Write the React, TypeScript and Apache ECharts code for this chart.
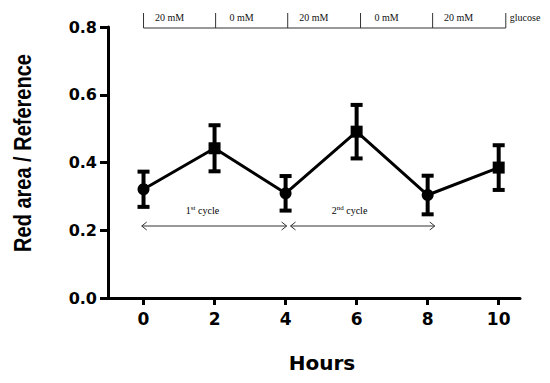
import React, { useEffect, useRef } from "react";
import * as echarts from "echarts";

const hours = [0, 2, 4, 6, 8, 10];
const means = [0.321, 0.442, 0.309, 0.491, 0.304, 0.385];
const errors = [0.052, 0.068, 0.051, 0.079, 0.057, 0.066];
const markers = ["circle", "rect", "circle", "rect", "circle", "rect"];

const xTicks = [0, 2, 4, 6, 8, 10];

const glucoseBounds = [0, 2.03, 4.06, 6.11, 8.14, 10.2];
const glucoseLabels = ["20 mM", "0 mM", "20 mM", "0 mM", "20 mM"];
const glucoseName = "glucose";

const cycleFrom = [-0.05, 4.14];
const cycleTo = [4.03, 8.2];
const cycleNum = ["1", "2"];
const cycleSup = ["st", "nd"];
const cycleLabelX = [1.66, 5.8];
const cycleArrowY = 0.2125;
const cycleLabelY = 0.258;

export default function App() {
  const ref = useRef<HTMLDivElement>(null);
  useEffect(() => {
    document.body.style.margin = "0";
    if (!ref.current) return;
    const chart = echarts.init(ref.current, null, { renderer: "svg" });
    const boldSans = "DejaVu Sans";
    const serif = "Liberation Serif";
    const annColor = "#333";

    const option: any = {
      animation: false,
      backgroundColor: "#fff",
      grid: { left: 108, top: 27, right: 30, bottom: 85, containLabel: false },
      xAxis: {
        type: "value",
        min: -1,
        max: 10.6,
        splitLine: { show: false },
        axisLine: { onZero: false, lineStyle: { color: "#000", width: 3 } },
        axisTick: { customValues: xTicks, length: 7, lineStyle: { color: "#000", width: 3 } },
        axisLabel: {
          customValues: xTicks,
          margin: 12,
          color: "#000",
          fontFamily: boldSans,
          fontWeight: "bold",
          fontSize: 17,
        },
      },
      yAxis: {
        type: "value",
        min: 0,
        max: 0.8,
        interval: 0.2,
        splitLine: { show: false },
        axisLine: { onZero: false, lineStyle: { color: "#000", width: 3 } },
        axisTick: { length: 8, lineStyle: { color: "#000", width: 3 } },
        axisLabel: {
          margin: 11,
          color: "#000",
          fontFamily: boldSans,
          fontWeight: "bold",
          fontSize: 16,
          formatter: (v: number) => v.toFixed(1),
        },
      },
      graphic: [
        {
          type: "text",
          x: 322,
          y: 363,
          style: {
            text: "Hours",
            font: `bold 20px "${boldSans}"`,
            fill: "#000",
            align: "center",
            verticalAlign: "middle",
          },
        },
        {
          type: "text",
          x: 23,
          y: 153,
          rotation: Math.PI / 2,
          scaleY: 1.15,
          style: {
            text: "Red area / Reference",
            font: 'bold 20px "Liberation Sans"',
            fill: "#000",
            align: "center",
            verticalAlign: "middle",
          },
        },
      ],
      series: [
        {
          type: "custom",
          z: 2,
          clip: false,
          data: hours.map((h, i) => [h, means[i], errors[i]]),
          encode: { x: 0, y: 1 },
          renderItem: (params: any, api: any) => {
            const x = api.value(0);
            const m = api.value(1);
            const e = api.value(2);
            const top = api.coord([x, m + e]);
            const bot = api.coord([x, m - e]);
            const hw = 6;
            const st = { stroke: "#000", lineWidth: 4 };
            return {
              type: "group",
              children: [
                { type: "line", shape: { x1: top[0], y1: top[1], x2: bot[0], y2: bot[1] }, style: st },
                { type: "line", shape: { x1: top[0] - hw, y1: top[1], x2: top[0] + hw, y2: top[1] }, style: st },
                { type: "line", shape: { x1: bot[0] - hw, y1: bot[1], x2: bot[0] + hw, y2: bot[1] }, style: st },
              ],
            };
          },
        },
        {
          type: "line",
          z: 3,
          data: hours.map((h, i) => ({ value: [h, means[i]], symbol: markers[i] })),
          symbolSize: 12,
          lineStyle: { color: "#000", width: 3 },
          itemStyle: { color: "#000" },
        },
        {
          type: "custom",
          z: 1,
          clip: false,
          data: [[0, 0]],
          renderItem: (params: any, api: any) => {
            const children: any[] = [];
            const thin = { stroke: annColor, lineWidth: 1 };
            const yTop = api.coord([0, 0.8])[1] + 1;
            const x0 = api.coord([glucoseBounds[0], 0.8])[0];
            const xN = api.coord([glucoseBounds[glucoseBounds.length - 1], 0.8])[0];
            children.push({ type: "line", shape: { x1: x0, y1: yTop, x2: xN, y2: yTop }, style: thin });
            glucoseBounds.forEach((b) => {
              const px = api.coord([b, 0.8])[0];
              children.push({ type: "line", shape: { x1: px, y1: yTop - 15, x2: px, y2: yTop }, style: thin });
            });
            glucoseLabels.forEach((lab, i) => {
              const px = api.coord([glucoseBounds[i], 0.8])[0];
              children.push({
                type: "text",
                x: px + 26,
                y: yTop - 11,
                style: { text: lab, font: `10px "${serif}"`, fill: "#111", align: "center", verticalAlign: "middle" },
              });
            });
            children.push({
              type: "text",
              x: xN + 4,
              y: yTop - 11,
              style: { text: glucoseName, font: `10px "${serif}"`, fill: "#111", align: "left", verticalAlign: "middle" },
            });
            cycleFrom.forEach((f, i) => {
              const a = api.coord([f, cycleArrowY]);
              const b = api.coord([cycleTo[i], cycleArrowY]);
              const h = 4;
              children.push({ type: "line", shape: { x1: a[0], y1: a[1], x2: b[0], y2: b[1] }, style: thin });
              children.push({
                type: "polyline",
                shape: { points: [[a[0] + h + 1, a[1] - h], [a[0], a[1]], [a[0] + h + 1, a[1] + h]] },
                style: { ...thin, fill: "none" },
              });
              children.push({
                type: "polyline",
                shape: { points: [[b[0] - h - 1, b[1] - h], [b[0], b[1]], [b[0] - h - 1, b[1] + h]] },
                style: { ...thin, fill: "none" },
              });
              const lp = api.coord([cycleLabelX[i], cycleLabelY]);
              children.push({
                type: "text",
                x: lp[0],
                y: lp[1],
                style: {
                  text: `{n|${cycleNum[i]}}{s|${cycleSup[i]}}{n| cycle}`,
                  align: "center",
                  verticalAlign: "middle",
                  rich: {
                    n: { fontSize: 10, fontFamily: serif, color: "#111" },
                    s: { fontSize: 7, fontFamily: serif, color: "#111", verticalAlign: "top", padding: [0, 0, 5, 0] },
                  },
                },
              });
            });
            return { type: "group", children };
          },
        },
      ],
    };
    chart.setOption(option);
    return () => chart.dispose();
  }, []);
  return <div ref={ref} style={{ width: 550, height: 383 }} />;
}
